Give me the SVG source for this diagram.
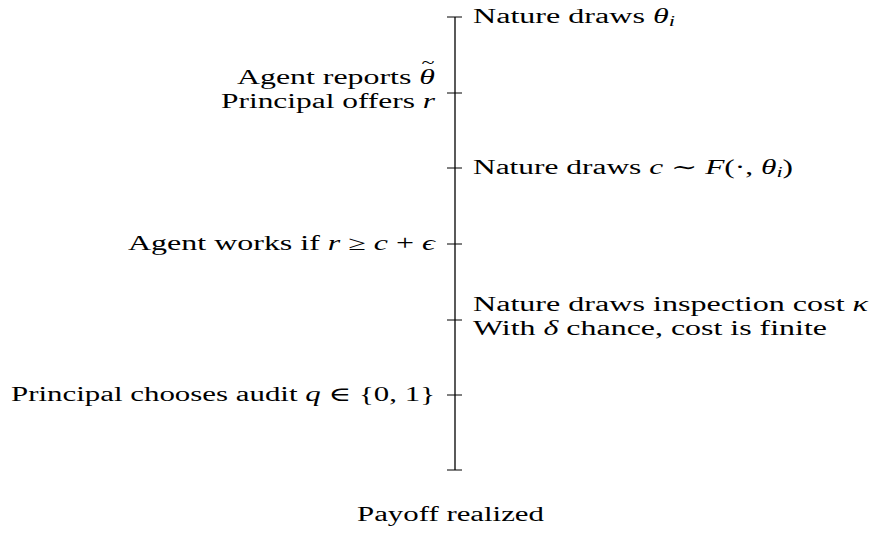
<svg xmlns="http://www.w3.org/2000/svg" width="872" height="538" viewBox="0 0 872 538">
<style>
text{font-family:"Liberation Serif","DejaVu Serif",serif;font-size:20px;fill:#000}
.m{font-style:italic}
.s{font-size:14px;font-style:italic}
.ac{font-size:17px}
.ax{stroke:#000;stroke-width:1.3;fill:none}
.tk{stroke:#000;stroke-width:1;fill:none}
</style>
<g id="connectors">
<line class="ax" x1="455" y1="17" x2="455" y2="470"/>
<line class="tk" x1="447" y1="17" x2="462" y2="17"/>
<line class="tk" x1="447" y1="93" x2="462" y2="93"/>
<line class="tk" x1="447" y1="168" x2="462" y2="168"/>
<line class="tk" x1="447" y1="244" x2="462" y2="244"/>
<line class="tk" x1="447" y1="320" x2="462" y2="320"/>
<line class="tk" x1="447" y1="395" x2="462" y2="395"/>
<line class="tk" x1="447" y1="470" x2="462" y2="470"/>
</g>
<g id="n1"><text x="473" y="23" textLength="202" lengthAdjust="spacingAndGlyphs">Nature draws <tspan class="m">θ</tspan><tspan class="s" dy="3">i</tspan></text></g>
<g id="n2">
<text x="237" y="84" textLength="198" lengthAdjust="spacingAndGlyphs">Agent reports <tspan class="m">θ</tspan></text>
<text class="ac" x="428" y="68" text-anchor="middle" textLength="13" lengthAdjust="spacingAndGlyphs">~</text>
<text x="221" y="108" textLength="214" lengthAdjust="spacingAndGlyphs">Principal offers <tspan class="m">r</tspan></text>
</g>
<g id="n3"><text x="473" y="174" textLength="320" lengthAdjust="spacingAndGlyphs">Nature draws <tspan class="m">c</tspan> ∼ <tspan class="m">F</tspan>(·, <tspan class="m">θ</tspan><tspan class="s" dy="3">i</tspan><tspan dy="-3">)</tspan></text></g>
<g id="n4"><text x="128" y="250" textLength="307" lengthAdjust="spacingAndGlyphs">Agent works if <tspan class="m">r</tspan> ≥ <tspan class="m">c</tspan> + <tspan class="m">ϵ</tspan></text></g>
<g id="n5">
<text x="473" y="311" textLength="395" lengthAdjust="spacingAndGlyphs">Nature draws inspection cost <tspan class="m">κ</tspan></text>
<text x="473" y="335" textLength="354" lengthAdjust="spacingAndGlyphs">With <tspan class="m">δ</tspan> chance, cost is finite</text>
</g>
<g id="n6"><text x="11" y="401" textLength="424" lengthAdjust="spacingAndGlyphs">Principal chooses audit <tspan class="m">q</tspan> ∈ {0, 1}</text></g>
<g id="n7"><text x="357" y="521" textLength="187" lengthAdjust="spacingAndGlyphs">Payoff realized</text></g>
</svg>
